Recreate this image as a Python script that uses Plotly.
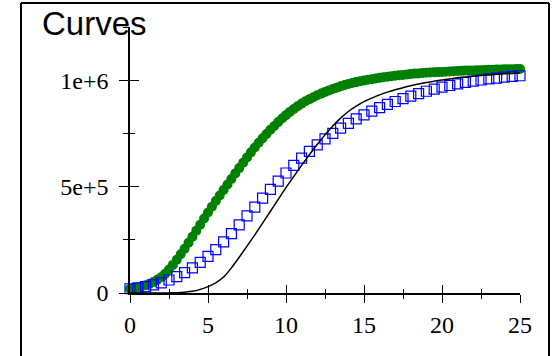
import plotly.graph_objects as go

# --- data -------------------------------------------------------------
x_fine = [i * 0.25 for i in range(101)]
x_half = [i * 0.5 for i in range(51)]

green_vals = [
    20, 23, 27, 32, 37, 44, 52, 62, 74, 90,
    110, 132, 156, 182, 208, 236, 264, 293, 321, 350,
    378, 405, 432, 458, 484, 510, 536, 562, 587, 612,
    637, 661, 684, 706, 727, 747, 767, 785, 803, 820,
    836, 851, 865, 878, 890, 901, 911, 920, 929, 937,
    945, 952, 959, 965, 971, 977, 982, 987, 991, 995,
    999, 1002, 1005, 1008, 1011, 1014, 1016, 1019, 1021, 1023,
    1025, 1027, 1029, 1031, 1032, 1034, 1035, 1036, 1037, 1038,
    1039, 1040, 1041, 1042, 1043, 1044, 1045, 1045.5, 1046, 1046.5,
    1047, 1048, 1049, 1049.5, 1050, 1050.5, 1051, 1051.5, 1052, 1052.5,
    1053,
]
green_vals = [v * 1000 for v in green_vals]

blue_vals = [
    20, 24, 30, 38, 48, 61, 77, 96, 118, 144,
    172, 204, 240, 279, 320, 362, 404, 446, 487, 526,
    564, 600, 634, 666, 696, 724, 750, 775, 797, 818,
    837, 855, 871, 886, 900, 913, 925, 937, 948, 958,
    967, 975, 983, 990, 996, 1001, 1006, 1010, 1014, 1018,
    1021,
]
blue_vals = [v * 1000 for v in blue_vals]

black_vals = [
    0, 0, 0, 0, 0.1, 0.5, 1.5, 4, 8, 17,
    30, 48, 75, 118, 168, 220, 273, 328, 384, 440,
    495, 548, 600, 650, 698, 743, 785, 822, 853, 878,
    899, 916, 931, 944, 955, 965, 974, 982, 989, 995,
    1001, 1006, 1011, 1015, 1019, 1022, 1025, 1028, 1030, 1032,
    1034,
]
black_vals = [v * 1000 for v in black_vals]

x_tick_vals = [0, 5, 10, 15, 20, 25]
y_tick_vals = [0, 500000, 1000000]
y_tick_text = ["0", "5e+5", "1e+6"]

# --- figure -----------------------------------------------------------
fig = go.Figure()

fig.add_trace(go.Scatter(
    x=x_fine, y=green_vals, mode="markers", cliponaxis=False,
    marker=dict(symbol="circle", size=10, color="#008000", line=dict(width=0)),
    showlegend=False,
))
fig.add_trace(go.Scatter(
    x=x_half, y=blue_vals, mode="markers", cliponaxis=False,
    marker=dict(symbol="square-open", size=10, color="#0000ff",
                line=dict(width=1.2, color="#0000ff")),
    showlegend=False,
))
fig.add_trace(go.Scatter(
    x=x_half, y=black_vals, mode="lines", cliponaxis=False,
    line=dict(color="black", width=1.5, shape="spline"),
    showlegend=False,
))

tick_font = dict(family="Liberation Serif", size=24, color="black")

common_x = dict(range=[0, 25], showgrid=False, zeroline=False)
common_y = dict(range=[0, 1250000], showgrid=False, zeroline=False)

fig.update_layout(
    width=553, height=356,
    margin=dict(l=130, r=33, t=27, b=63),
    paper_bgcolor="white", plot_bgcolor="white",
    title=dict(
        text="Curves", x=42 / 553, xanchor="left", xref="container",
        y=1 - 23 / 356, yanchor="middle", yref="container",
        font=dict(family="Liberation Sans", size=33, color="black"),
    ),
    xaxis=dict(
        **common_x, showline=True, linecolor="black", linewidth=1.5,
        ticks="outside", ticklen=8, tickwidth=1.2, tickcolor="black",
        tickvals=x_tick_vals, tickfont=tick_font, ticklabelstandoff=1,
        minor=dict(ticks="outside", dtick=2.5, ticklen=4, tickwidth=1.2, tickcolor="black"),
    ),
    xaxis2=dict(
        **common_x, overlaying="x", anchor="y", side="bottom", showline=False,
        ticks="inside", ticklen=8, tickwidth=1.2, tickcolor="black",
        tickvals=x_tick_vals, showticklabels=False,
        minor=dict(ticks="inside", dtick=2.5, ticklen=4, tickwidth=1.2, tickcolor="black"),
    ),
    yaxis=dict(
        **common_y, showline=True, linecolor="black", linewidth=1.5,
        ticks="outside", ticklen=9, tickwidth=1.2, tickcolor="black",
        tickvals=y_tick_vals, ticktext=y_tick_text, tickfont=tick_font,
        ticklabelstandoff=6,
        minor=dict(ticks="outside", dtick=250000, ticklen=5, tickwidth=1.2, tickcolor="black"),
    ),
    yaxis2=dict(
        **common_y, overlaying="y", anchor="x", side="left", showline=False,
        ticks="inside", ticklen=9, tickwidth=1.2, tickcolor="black",
        tickvals=y_tick_vals, showticklabels=False,
        minor=dict(ticks="inside", dtick=250000, ticklen=5, tickwidth=1.2, tickcolor="black"),
    ),
)

# empty helper trace so the overlay axes (inner tick halves) are drawn
fig.add_trace(go.Scatter(x=[None], y=[None], xaxis="x2", yaxis="y2",
                         showlegend=False, hoverinfo="skip"))

# outer frame around the chart
frame = dict(type="line", xref="paper", yref="paper", line=dict(color="black", width=2))
left_p, right_p = (21 - 130) / 390, (549 - 130) / 390
top_p, bottom_p = (293 - 3) / 266, (293 - 360) / 266
fig.add_shape(**frame, x0=left_p, x1=left_p, y0=bottom_p, y1=top_p)
fig.add_shape(**frame, x0=left_p, x1=right_p, y0=top_p, y1=top_p)
fig.add_shape(**frame, x0=right_p, x1=right_p, y0=bottom_p, y1=top_p)

fig.write_html("out.html")
